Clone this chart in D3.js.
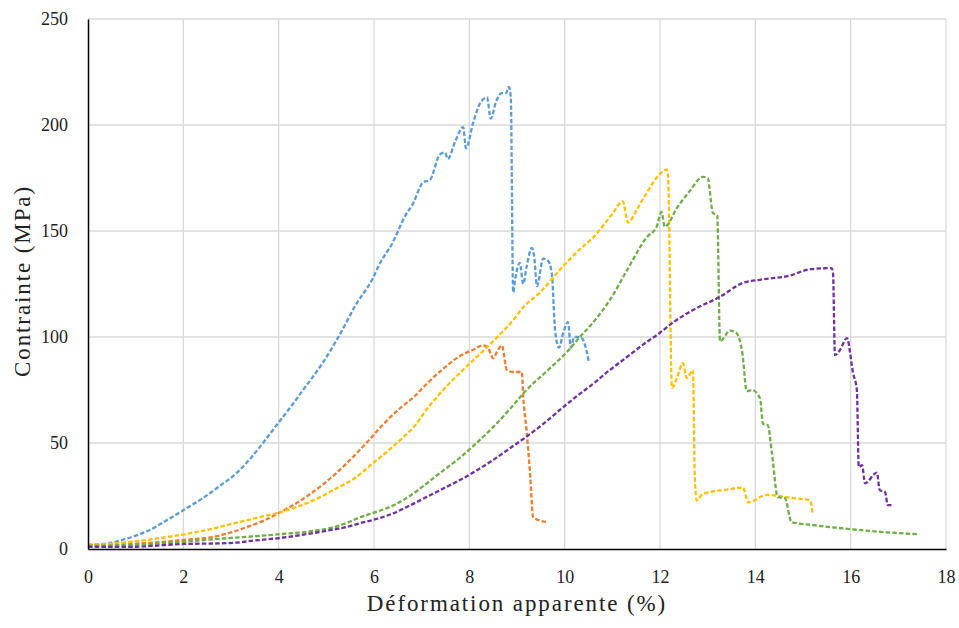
<!DOCTYPE html>
<html><head><meta charset="utf-8">
<script src="https://cdn.jsdelivr.net/npm/d3@7"></script>
<style>body{margin:0;background:#fff}</style>
</head><body>
<svg id="c" width="959" height="628"></svg>
<script>
const xTicks = [0,2,4,6,8,10,12,14,16,18];
const yTicks = [0,50,100,150,200,250];
const xTitle = "Déformation apparente (%)";
const yTitle = "Contrainte (MPa)";

const blue = [[0,1.5],[0.25,2.2],[0.5,3],[0.75,4.5],[1,6.3],[1.25,8.5],[1.72,14.5],[2.05,19],[2.41,24],[2.75,29.5],[3.1,35.5],[3.4,42.5],[3.67,50],[3.99,59.4],[4.25,67],[4.51,75],[4.93,88],[5.24,99.5],[5.64,116],[5.96,127],[6.13,135],[6.38,144],[6.65,157],[6.82,163],[7.03,173],[7.17,174],[7.38,186],[7.49,187],[7.55,184],[7.70,192],[7.87,199],[7.93,189],[8.08,201],[8.22,210],[8.37,213],[8.45,203],[8.56,211],[8.68,215],[8.77,215],[8.83,218],[8.87,213],[8.92,121],[8.96,127],[9.06,135],[9.13,125],[9.20,133],[9.31,142],[9.36,138],[9.42,124],[9.55,137],[9.65,136],[9.73,130],[9.80,103],[9.88,95],[9.97,102],[10.07,107],[10.13,95],[10.20,100],[10.32,100],[10.40,98],[10.51,88]];
const orange = [[0,2],[0.6,2.2],[1.24,2.8],[2,4.3],[2.62,5.7],[3,7.8],[3.34,10.4],[3.7,13.5],[4.03,17.3],[4.4,22],[4.87,29.4],[5.43,40.5],[5.92,52],[6.2,59],[6.55,66.5],[6.85,72],[7.11,78],[7.45,85],[7.80,91],[8.08,94],[8.29,96],[8.39,95],[8.5,90],[8.58,93],[8.68,96],[8.79,84.5],[8.92,83.5],[9.10,83.5],[9.13,72],[9.20,56],[9.27,37],[9.34,15],[9.44,13.7],[9.65,12.7]];
const yellow = [[0,2],[0.5,2.5],[0.88,3.3],[1.4,4.8],[1.93,6.6],[2.5,9],[3.13,12.5],[3.6,15],[4.03,17.3],[4.4,20],[4.72,22.8],[5.22,28.7],[5.6,33.5],[5.98,40.5],[6.25,45.5],[6.55,51.4],[6.85,58],[7.11,66],[7.45,75],[7.80,83],[8.15,90.5],[8.5,98],[8.92,108],[9.13,114],[9.48,121],[9.95,133],[10.3,141],[10.6,147],[11.0,158],[11.22,164],[11.33,154],[11.51,160],[11.72,168],[12.0,177],[12.14,179],[12.17,175.5],[12.25,76],[12.36,81],[12.48,87.7],[12.56,80.6],[12.69,84.4],[12.73,33.5],[12.77,23],[12.90,26],[13.4,28],[13.74,29],[13.85,22],[14.24,25.5],[14.79,24],[15.15,23],[15.2,17]];
const green = [[0,1.5],[0.88,1.9],[1.93,3.3],[2.98,5.2],[3.5,6],[4.03,7],[4.72,8.5],[5.1,10],[5.43,12.3],[5.71,15],[5.98,17],[6.40,20.5],[6.75,25],[7.11,31],[7.45,37],[7.80,43],[8.15,50],[8.5,57.5],[8.85,66],[9.2,75],[9.63,84],[10.05,93],[10.32,100],[10.6,107],[10.95,117.5],[11.31,131.6],[11.72,147],[11.93,152],[12.03,159],[12.1,152],[12.36,161],[12.63,169],[12.9,175.5],[13.0,175],[13.11,158.5],[13.2,157.5],[13.26,98],[13.47,103],[13.6,102],[13.73,92],[13.82,74.5],[13.93,75],[14.1,71],[14.16,59],[14.26,58.5],[14.35,45],[14.47,24.5],[14.62,24],[14.76,12.7],[15.21,11.3],[15.98,9.4],[16.68,8],[17.39,7]];
const purple = [[0,1],[0.88,1],[1.93,2.3],[2.98,2.8],[3.5,4],[4.03,5.2],[4.72,7.5],[5.1,9],[5.43,10.4],[5.71,12.2],[5.98,13.7],[6.40,16.8],[6.75,20.5],[7.11,24.6],[7.45,28.5],[7.80,32.5],[8.15,37],[8.5,42],[8.85,47.5],[9.2,53],[9.55,59],[9.90,65.6],[10.25,72],[10.6,78],[10.95,84.5],[11.31,90.6],[11.65,96.5],[12.0,102],[12.2,105.6],[12.45,109.5],[12.69,112.7],[13.26,119],[13.74,125.5],[14.1,127],[14.73,129],[15.15,132],[15.6,132.5],[15.63,130],[15.67,91.5],[15.78,94],[15.92,99.5],[16.05,83],[16.13,75],[16.17,38.7],[16.24,39.6],[16.3,31],[16.55,36],[16.61,27.8],[16.72,26.9],[16.78,20.7],[16.87,20.7]];

const seriesData = [blue, orange, yellow, green, purple];
const seriesColors = ["#5B9BD5","#ED7D31","#FFC000","#70AD47","#7030A0"];

const svg = d3.select("#c");
const L = 88, R = 946, T = 19, B = 549;
const x = d3.scaleLinear().domain([0,18]).range([L,R]);
const y = d3.scaleLinear().domain([0,250]).range([B,T]);
const font = "'Liberation Serif', 'DejaVu Serif', serif";

// gridlines
svg.append("g").selectAll("line").data(xTicks.slice(1)).join("line")
  .attr("x1",d=>x(d)).attr("x2",d=>x(d)).attr("y1",T).attr("y2",B)
  .attr("stroke","#d9d9d9").attr("stroke-width",1.3);
svg.append("g").selectAll("line").data(yTicks.slice(1)).join("line")
  .attr("x1",L).attr("x2",R).attr("y1",d=>y(d)).attr("y2",d=>y(d))
  .attr("stroke","#d9d9d9").attr("stroke-width",1.3);

// lines
const line = d3.line().x(d=>x(d[0])).y(d=>y(d[1])).curve(d3.curveMonotoneX);
svg.append("g").selectAll("path").data(seriesData).join("path")
  .attr("d",line).attr("fill","none")
  .attr("stroke",(d,i)=>seriesColors[i]).attr("stroke-width",2.3)
  .attr("stroke-dasharray","4.5,2.2").attr("stroke-linejoin","round");

// axes
const xa = svg.append("g").attr("transform",`translate(0,${B})`)
  .call(d3.axisBottom(x).tickValues(xTicks).tickSize(0).tickPadding(21));
const ya = svg.append("g").attr("transform",`translate(${L},0)`)
  .call(d3.axisLeft(y).tickValues(yTicks).tickSize(0).tickPadding(20));
[xa,ya].forEach(a=>{
  a.select(".domain").attr("stroke","#000").attr("stroke-width",1.5);
  a.selectAll("text").attr("font-family",font).attr("font-size",18).attr("fill","#222");
});

// titles
svg.append("text").attr("x",517).attr("y",611).attr("text-anchor","middle")
  .attr("font-family",font).attr("font-size",23).attr("letter-spacing","1.9px").attr("fill","#222").text(xTitle);
svg.append("text").attr("transform",`translate(30,281) rotate(-90)`)
  .attr("text-anchor","middle").attr("font-family",font).attr("font-size",23).attr("letter-spacing","1.9px").attr("fill","#222").text(yTitle);
</script>
</body></html>
